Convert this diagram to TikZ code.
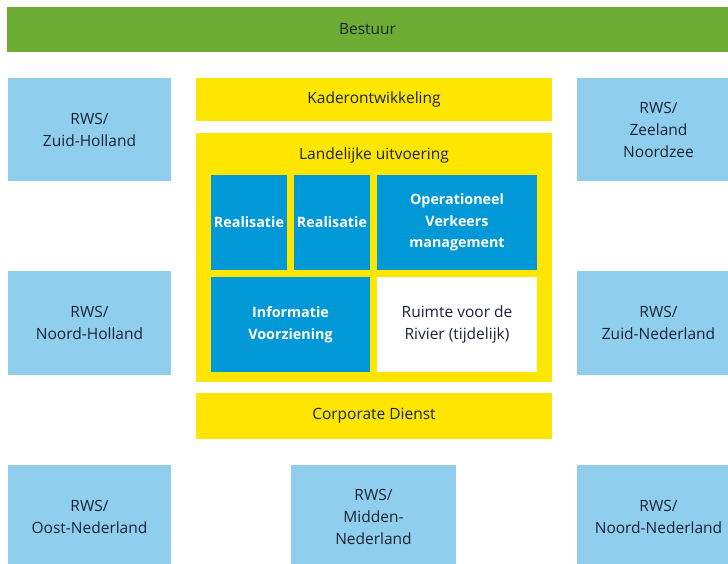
\documentclass[tikz,border=0pt]{standalone}
\usepackage{fontspec}
\setmainfont{Open Sans}

\definecolor{bestuurgroen}{HTML}{6EAD33}
\definecolor{regioblauw}{HTML}{8FCEEC}
\definecolor{dienstblauw}{HTML}{0098D6}
\definecolor{kadergeel}{HTML}{FFE600}
\definecolor{tekstdonker}{HTML}{1A2436}

\tikzset{
  blok/.style={rectangle, inner sep=0pt, align=center, text=tekstdonker,
    font=\fontsize{15.5}{22}\selectfont},
  regio/.style={blok, fill=regioblauw, minimum width=163pt, minimum height=103pt},
  balk/.style={blok, fill=kadergeel, minimum width=356pt},
  dienst/.style={blok, fill=dienstblauw, text=white, minimum height=95pt,
    font=\fontsize{14.3}{21.5}\selectfont\bfseries}
}

\begin{document}
\begin{tikzpicture}[x=1pt, y=-1pt]
  \clip (0,0) rectangle (728,563);
  \fill[white] (0,0) rectangle (728,563);

  \node (bestuur) at (367.5, 29.5) [blok, fill=bestuurgroen, minimum width=721pt, minimum height=45pt] {Bestuur};

  % regionale diensten
  \node (zh) at (89.5, 129.5) [regio] {RWS/\\Zuid-Holland};
  \node (nh) at (89.5, 323) [regio, minimum height=104pt] {RWS/\\Noord-Holland};
  \node (on) at (89.5, 516.5) [regio] {RWS/\\Oost-Nederland};
  \node (zn) at (658.5, 129.5) [regio] {RWS/\\Zeeland\\Noordzee};
  \node (zdn) at (658.5, 323) [regio, minimum height=104pt] {RWS/\\Zuid-Nederland};
  \node (nn) at (658.5, 516.5) [regio] {RWS/\\Noord-Nederland};
  \node (mn) at (373.5, 516.5) [regio, minimum width=165pt] {RWS/\\Midden-\\Nederland};

  % landelijke diensten
  \node (kader) at (374, 99.5) [balk, minimum height=43pt] {Kaderontwikkeling};
  \node (landelijk) at (374, 257.5) [balk, minimum height=249pt] {};
  \node (landtitel) at (374, 155) [blok] {Landelijke uitvoering};
  \node (real1) at (249, 222.5) [dienst, minimum width=76pt] {Realisatie};
  \node (real2) at (332, 222.5) [dienst, minimum width=76pt] {Realisatie};
  \node (ovm) at (457, 222.5) [dienst, minimum width=160pt] {Operationeel\\Verkeers\\management};
  \node (ivo) at (290.5, 324.5) [dienst, minimum width=159pt] {Informatie\\Voorziening};
  \node (rvr) at (457, 324.5) [blok, fill=white, minimum width=160pt, minimum height=95pt] {Ruimte voor de\\Rivier (tijdelijk)};
  \node (corp) at (374, 416) [balk, minimum height=46pt] {Corporate Dienst};
\end{tikzpicture}
\end{document}
